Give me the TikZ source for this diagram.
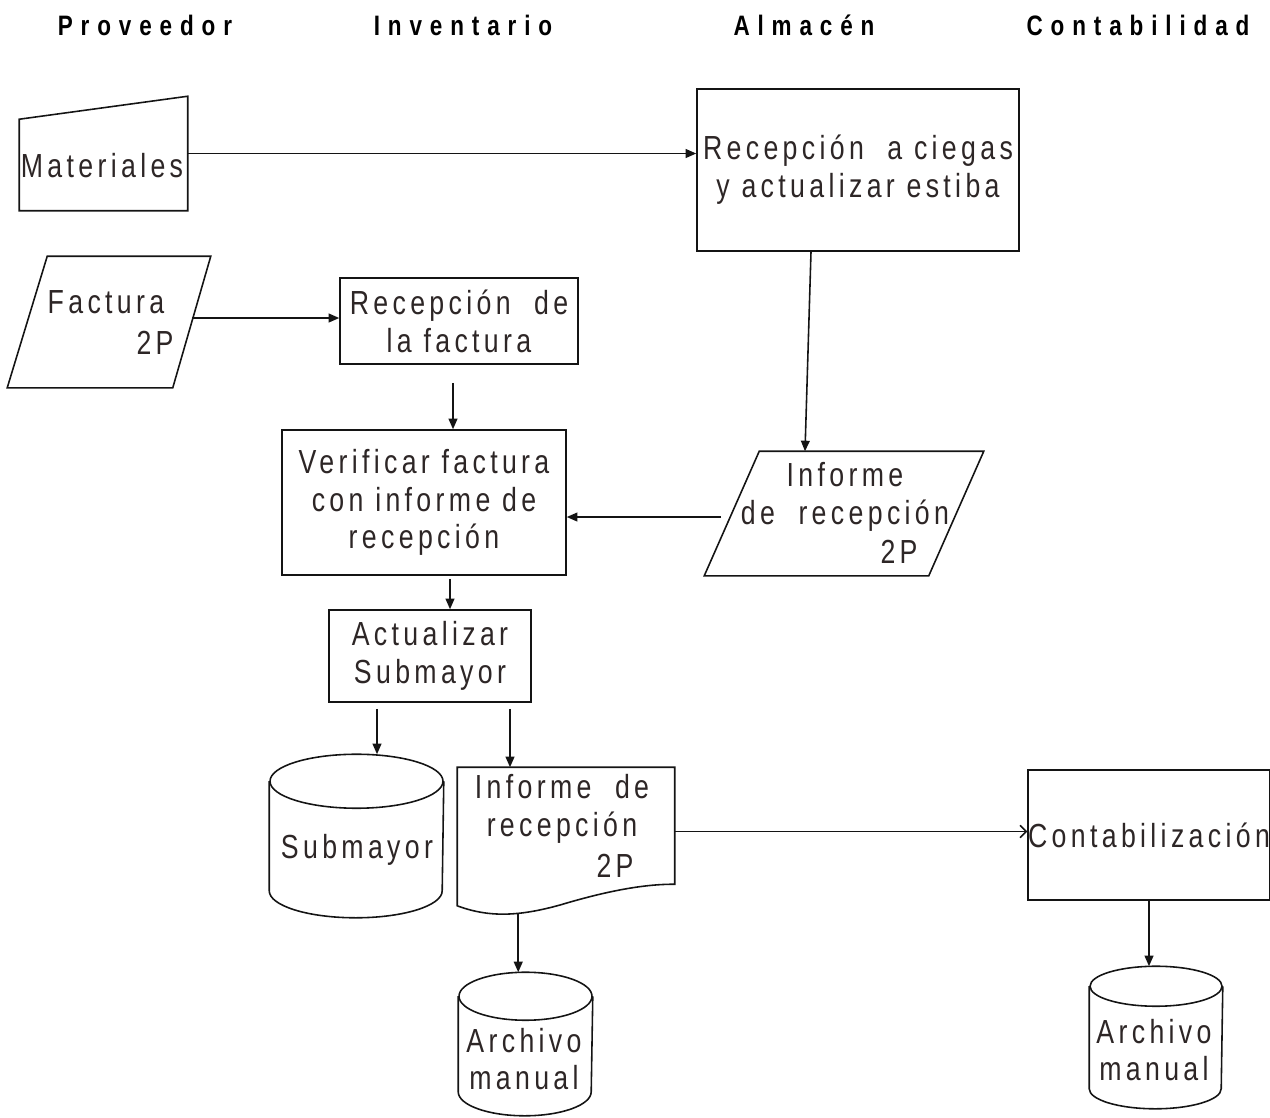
\documentclass[tikz,border=0pt]{standalone}
\usepackage{fontspec}
\setmainfont{Liberation Sans}[FakeStretch=0.8,LetterSpace=13]
\newfontfamily\hdrfont{Liberation Sans}[FakeStretch=0.8,LetterSpace=28]
\usetikzlibrary{arrows.meta,calc}
\definecolor{ink}{RGB}{20,20,20}
\definecolor{txt}{RGB}{45,38,38}

\begin{document}
\begin{tikzpicture}[x=0.02cm,y=-0.02cm,line width=0.9pt,
  lbl/.style={font=\fontsize{19}{21.5}\selectfont,text=txt,align=center,inner sep=0pt},
  hdr/.style={font=\hdrfont\bfseries\fontsize{16}{18}\selectfont,text=black,inner sep=0pt},
  procbox/.style={draw=ink,rectangle,inner sep=0pt,lbl},
  frame/.style={draw=none,rectangle,inner sep=0pt},
  flow/.style={draw=ink,-{Triangle[length=6pt,width=5pt]}},
  openflow/.style={draw=ink,-{Straight Barb[length=3.5pt,width=7pt]}},
  outline/.style={draw=ink,line join=miter},
]
\useasboundingbox (0,0) rectangle (1270,1117);

% lane headers
\node[hdr] (h1) at (145,25) {Proveedor};
\node[hdr] (h2) at (463,25) {Inventario};
\node[hdr] (h3) at (804,25) {Almacén};
\node[hdr] (h4) at (1138,25) {Contabilidad};

% process boxes
\node[procbox,minimum width=6.44cm,minimum height=3.24cm] (rec) at (858,170)
  {Recepción \ a ciegas\\y actualizar estiba};
\node[procbox,minimum width=4.76cm,minimum height=1.72cm] (rf) at (459,321)
  {Recepción \ de\\la factura};
\node[procbox,minimum width=5.68cm,minimum height=2.9cm] (ver) at (424,502.5)
  {Verificar factura\\con informe de\\recepción};
\node[procbox,minimum width=4.04cm,minimum height=1.84cm] (act) at (430,656)
  {Actualizar\\Submayor};
\node[procbox,minimum width=4.76cm,minimum height=2.6cm] (cont) at (1149,835)
  {Contabilización};

% manual input: Materiales
\node[frame,minimum width=3.34cm,minimum height=2.26cm] (mat) at (103.5,153.5) {};
\draw[outline] ($(mat.north west)+(0,23)$) -- (mat.north east) -- (mat.south east)
  -- (mat.south west) -- cycle;
\node[lbl] (matT) at (102,166) {Materiales};

% data: Factura 2P
\node[frame,minimum width=4.04cm,minimum height=2.6cm] (fac) at (109,322) {};
\draw[outline] ($(fac.north west)+(40,0)$) -- (fac.north east)
  -- ($(fac.south east)+(-38,0)$) -- (fac.south west) -- cycle;
\node[lbl] (facT) at (106,302) {Factura};
\node[lbl] (facP) at (155,343) {2P};

% data: Informe de recepcion 2P
\node[frame,minimum width=5.56cm,minimum height=2.46cm] (inf) at (844,513.5) {};
\draw[outline] ($(inf.north west)+(55,0)$) -- (inf.north east)
  -- ($(inf.south east)+(-55,0)$) -- (inf.south west) -- cycle;
\node[lbl] (infT) at (845,497) {Informe\\de \ recepción};
\node[lbl] (infP) at (899,552) {2P};

% document: Informe de recepcion 2P
\node[frame,minimum width=4.32cm,minimum height=2.74cm] (doc) at (566,836.5) {};
\draw[outline] (doc.south west) -- (doc.north west) -- (doc.north east)
  -- ($(doc.north east)+(0,117)$)
  .. controls (640,884) and (600,893) .. (560,905)
  .. controls (520,916) and (490,918) .. (doc.south west) -- cycle;
\node[lbl] (docT) at (562,809) {Informe \ de\\recepción};
\node[lbl] (docP) at (615,866) {2P};

% stored data drums
\newcommand\drawdrum[3]{%
  \draw[outline] ($(#1.north)+(0,#3)$) ellipse [x radius=#2, y radius=#3*0.02cm];
  \draw[outline] ($(#1.north west)+(0,#3)$) -- ($(#1.south west)+(0,-#3)$)
    arc[start angle=180,end angle=360,x radius=#2,y radius=#3*0.02cm]
    -- ($(#1.north east)+(0,#3)$);}
\node[frame,minimum width=3.46cm,minimum height=3.24cm] (sub) at (356.5,836) {};
\drawdrum{sub}{1.73cm}{27}
\node[lbl] (subT) at (357,850) {Submayor};

\node[frame,minimum width=2.66cm,minimum height=2.84cm] (arch1) at (525.5,1044) {};
\drawdrum{arch1}{1.33cm}{24}
\node[lbl] (arch1T) at (524,1059) {Archivo\\manual};

\node[frame,minimum width=2.64cm,minimum height=2.82cm] (arch2) at (1156,1037.5) {};
\drawdrum{arch2}{1.32cm}{20}
\node[lbl] (arch2T) at (1154,1050) {Archivo\\manual};

% connector end points on the shapes
\coordinate (facR) at ($(fac.east)+(-19,-4)$);
\coordinate (recS) at ($(rec.south)+(-47,0)$);
\coordinate (infN) at ($(inf.north)+(-39,0)$);
\coordinate (infW) at ($(inf.west)+(17,3.5)$);
\coordinate (rfS) at ($(rf.south)+(-6,18)$);
\coordinate (verS) at ($(ver.south)+(26,3)$);
\coordinate (actL) at ($(act.south)+(-53,6)$);
\coordinate (actR) at ($(act.south)+(80,6)$);
\coordinate (docE) at ($(doc.east)+(0,-5)$);
\coordinate (docB) at ($(doc.south west)+(61,7)$);

% connectors
\draw[flow] (mat.east) -- (mat.east -| rec.west);
\draw[flow] (facR) -- (facR -| rf.west);
\draw[flow] (recS) -- (infN);
\draw[flow] (rfS) -- (rfS |- ver.north);
\draw[flow] (infW) -- (infW -| ver.east);
\draw[flow] (verS) -- (verS |- act.north);
\draw[flow] (actL) -- (actL |- sub.north);
\draw[flow] (actR) -- (actR |- doc.north);
\draw[openflow] (docE) -- (docE -| cont.west);
\draw[flow] (docB) -- (docB |- arch1.north);
\draw[flow] (cont.south) -- (cont.south |- arch2.north);
\end{tikzpicture}
\end{document}
